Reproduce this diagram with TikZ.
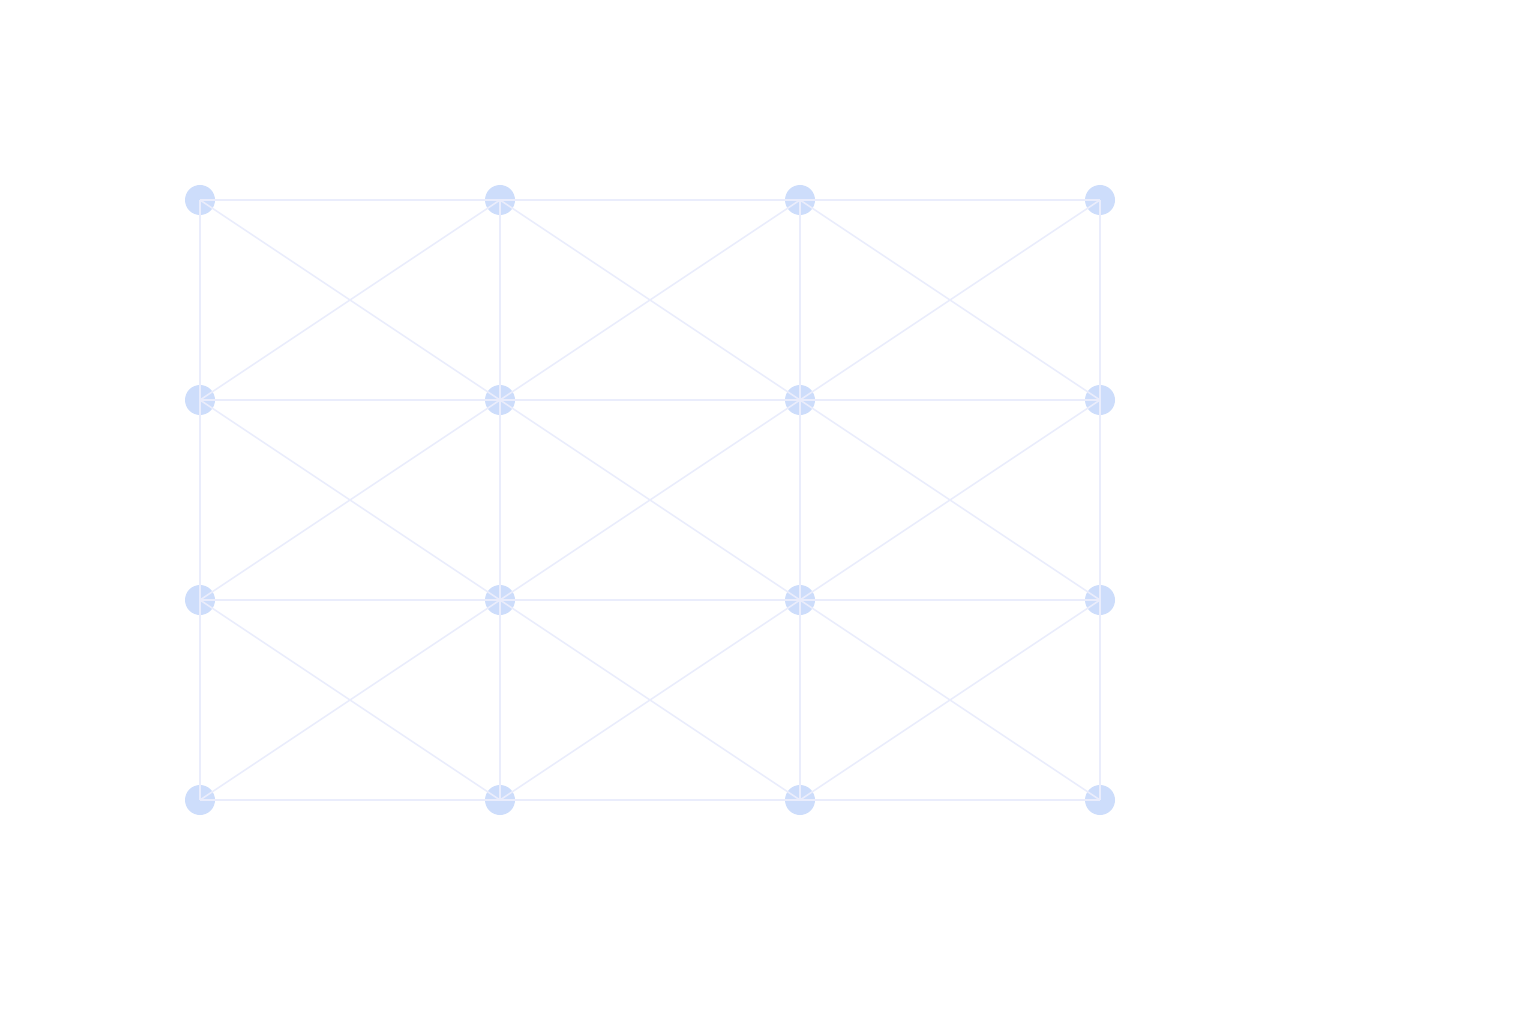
\documentclass[tikz,border=0pt]{standalone}
\usepackage{tikz}
\definecolor{dotfill}{RGB}{205,221,251}
\definecolor{linkcol}{RGB}{234,237,252}

\begin{document}
\begin{tikzpicture}
	\tikzset{mydots/.style={circle,fill=dotfill,inner sep=0pt,minimum size=0.3cm},
		mylinks/.style={draw=linkcol,line width=0.45pt}}
	\useasboundingbox (0,0) rectangle (15.36,10.24);
	% grid of dots, columns 0..3, rows 0..3 (row 0 at the top)
	\foreach \c in {0,...,3}
	\foreach \r in {0,...,3}
	\node[mydots] (n\c\r) at ({2+3*\c},{8.24-2*\r}) {};
	% horizontal and vertical links
	\foreach \c/\d in {0/1,1/2,2/3}
	\foreach \r in {0,...,3}
	\draw[mylinks] (n\c\r.center)--(n\d\r.center);
	\foreach \c in {0,...,3}
	\foreach \r/\s in {0/1,1/2,2/3}
	\draw[mylinks] (n\c\r.center)--(n\c\s.center);
	% both diagonals in every cell
	\foreach \c/\d in {0/1,1/2,2/3}
	\foreach \r/\s in {0/1,1/2,2/3}
	\draw[mylinks] (n\c\r.center)--(n\d\s.center) (n\d\r.center)--(n\c\s.center);
\end{tikzpicture}
\end{document}
